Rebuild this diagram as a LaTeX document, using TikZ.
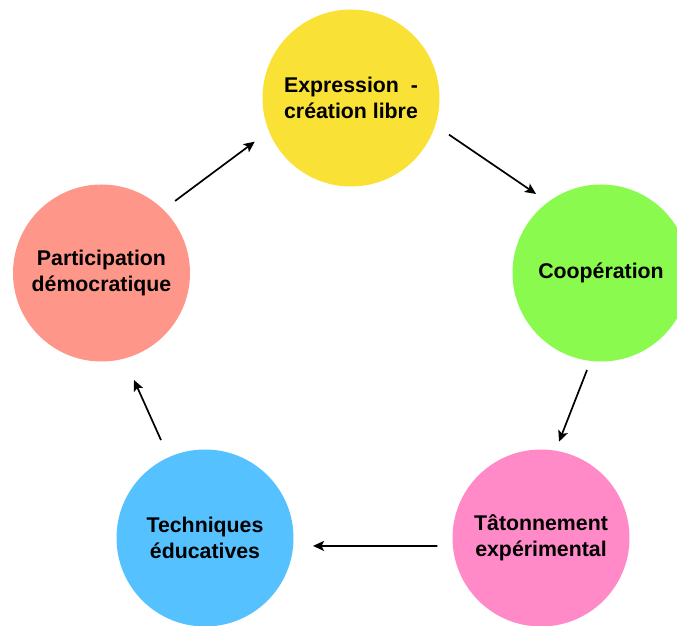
\documentclass[tikz,border=0pt]{standalone}
\usepackage{fontspec}
\setmainfont{Liberation Sans}
\usetikzlibrary{calc,arrows.meta}
\definecolor{cyellow}{HTML}{F9E136}
\definecolor{cgreen}{HTML}{8AFA4F}
\definecolor{cpink}{HTML}{FF8AC7}
\definecolor{cblue}{HTML}{56C1FF}
\definecolor{csalmon}{HTML}{FF968A}
\begin{document}
\begin{tikzpicture}[x=1pt,y=1pt,
  bubble/.style={circle,minimum size=177pt,inner sep=0pt,align=center,
    font=\fontsize{21.3}{25.5}\selectfont\bfseries},
  flow/.style={line width=1.7pt,-{Stealth[length=11pt,width=10pt,inset=2.5pt]}}]
\useasboundingbox (0,0) rectangle (677,626);
\begin{scope}
\clip (0,0) rectangle (677,626);
\node[bubble,fill=cyellow] (top) at (351,528) {Expression\ \ -\\création libre};
\node[bubble,fill=cgreen] (coop) at (601,353) {Coopération};
\node[bubble,fill=cpink] (tat) at (541,88) {Tâtonnement\\expérimental};
\node[bubble,fill=cblue] (tech) at (205,88) {Techniques\\éducatives};
\node[bubble,fill=csalmon] (part) at (101.5,353) {Participation\\démocratique};
\end{scope}
\draw[flow] ($(part)+(44.4:103)$) -- ($(top)+(204.4:105.7)$);
\draw[flow] ($(top)+(-20.5:104.6)$) -- ($(coop)+(129.4:102.3)$);
\draw[flow] ($(coop)+(261.8:98)$) -- ($(tat)+(79.4:98)$);
\draw[flow] ($(tat)+(184.4:103.9)$) -- ($(tech)+(-4.2:108.3)$);
\draw[flow] ($(tech)+(114.2:107.4)$) -- ($(part)+(-73.1:111.8)$);
\end{tikzpicture}
\end{document}
